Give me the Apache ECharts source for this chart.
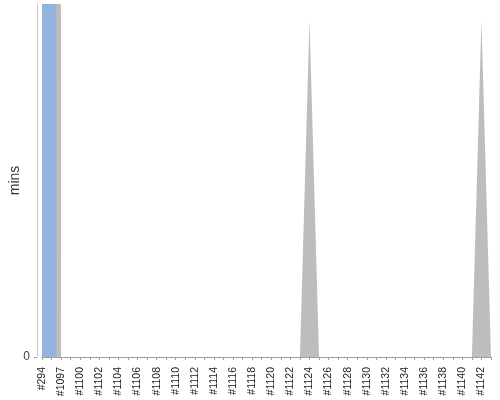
<!DOCTYPE html>
<html>
<head>
<meta charset="utf-8">
<script src="https://cdn.jsdelivr.net/npm/echarts@6/dist/echarts.min.js"></script>
<style>
	html, body { margin: 0; padding: 0; background: #fff; }
	#chart { width: 500px; height: 400px; }
</style>
</head>
<body>
<div id="chart"></div>
<script>
// 构建号
let builds = [
	'#294', '#1096', '#1097', '#1099', '#1100', '#1101', '#1102', '#1103', '#1104', '#1105',
	'#1106', '#1107', '#1108', '#1109', '#1110', '#1111', '#1112', '#1113', '#1114', '#1115',
	'#1116', '#1117', '#1118', '#1119', '#1120', '#1121', '#1122', '#1123', '#1124', '#1125',
	'#1126', '#1127', '#1128', '#1129', '#1130', '#1131', '#1132', '#1133', '#1134', '#1135',
	'#1136', '#1137', '#1138', '#1139', '#1140', '#1141', '#1142', '#1143',
];
// 构建耗时 (灰色)，前两个远超出图表上限
let build_mins = [
	5000, 5000, 0, 0, 0, 0, 0, 0, 0, 0,
	0, 0, 0, 0, 0, 0, 0, 0, 0, 0,
	0, 0, 0, 0, 0, 0, 0, 0, 95.5, 0,
	0, 0, 0, 0, 0, 0, 0, 0, 0, 0,
	0, 0, 0, 0, 0, 0, 95.5, 0,
];
// 蓝色部分
let other_mins = [
	5000, 5000, 0, 0, 0, 0, 0, 0, 0, 0,
	0, 0, 0, 0, 0, 0, 0, 0, 0, 0,
	0, 0, 0, 0, 0, 0, 0, 0, 0, 0,
	0, 0, 0, 0, 0, 0, 0, 0, 0, 0,
	0, 0, 0, 0, 0, 0, 0, 0,
];
let y_ticks = [0];

let chart = echarts.init(document.getElementById('chart'));
let option = {
	animation: false,
	grid: { left: 42, right: 9, top: 4, bottom: 43, outerBoundsMode: 'none', containLabel: false },
	xAxis: {
		type: 'category',
		data: builds,
		boundaryGap: false,
		offset: 5,
		axisLine: { lineStyle: { color: '#a0a0a0', width: 1 } },
		axisTick: { interval: 0, length: 3, lineStyle: { color: '#a0a0a0' } },
		axisLabel: {
			interval: 1,
			rotate: 90,
			margin: 5,
			fontSize: 10.5,
			fontFamily: 'Liberation Sans',
			color: '#222',
			hideOverlap: false,
		},
		splitLine: { show: false },
	},
	yAxis: {
		type: 'value',
		min: 0,
		max: 100,
		offset: 5,
		name: 'mins',
		nameLocation: 'middle',
		nameRotate: 90,
		nameGap: 15,
		nameMoveOverlap: false,
		nameTextStyle: { fontSize: 14, fontFamily: 'Liberation Sans', color: '#333' },
		axisLine: { show: true, lineStyle: { color: '#c8c8c8', width: 1 } },
		axisTick: { show: true, length: 3, customValues: y_ticks, lineStyle: { color: '#a0a0a0' } },
		axisLabel: { customValues: y_ticks, fontSize: 12, fontFamily: 'Liberation Sans', color: '#444', margin: 7 },
		splitLine: { show: false },
	},
	series: [
		{
			type: 'line',
			data: build_mins,
			symbol: 'none',
			clip: true,
			lineStyle: { width: 0 },
			areaStyle: { color: '#bdbdbd', opacity: 1 },
			itemStyle: { color: '#bdbdbd' },
		},
		{
			type: 'line',
			data: other_mins,
			step: 'middle',
			symbol: 'none',
			clip: true,
			lineStyle: { width: 0 },
			areaStyle: { color: '#92b4de', opacity: 1 },
			itemStyle: { color: '#92b4de' },
		},
	],
};
chart.setOption(option);
</script>
</body>
</html>
